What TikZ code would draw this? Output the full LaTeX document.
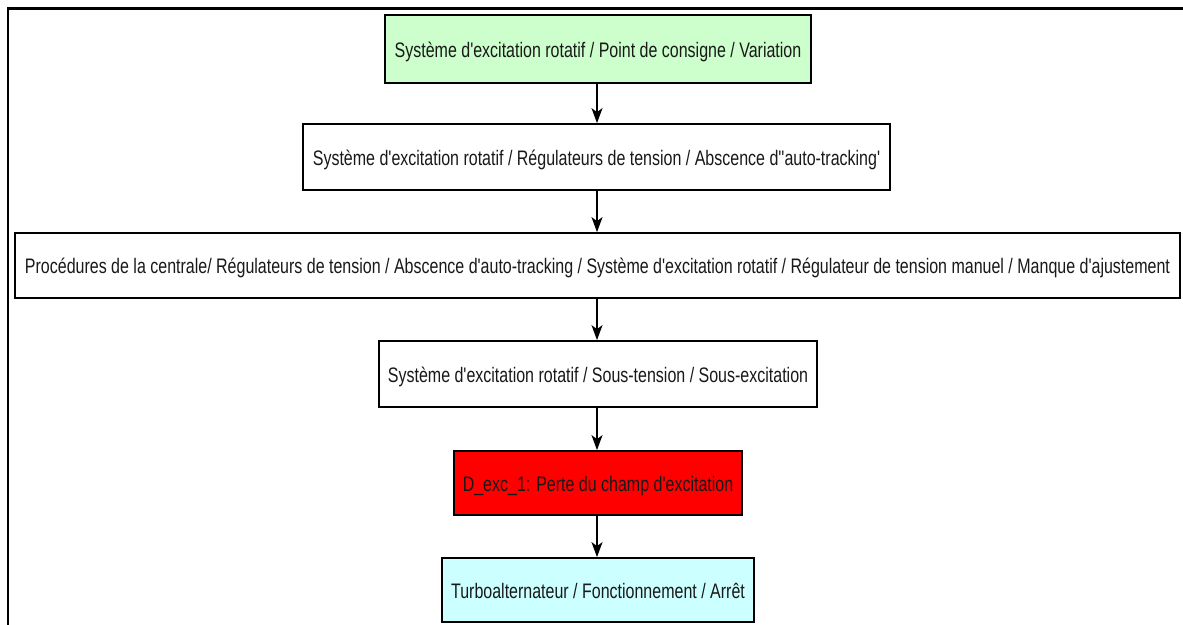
\documentclass[tikz,border=0pt]{standalone}
\usepackage{fontspec}
\setmainfont[FakeStretch=0.762, Ligatures=TeXOff]{Liberation Sans}
\usetikzlibrary{arrows.meta}
\definecolor{boxgreen}{RGB}{204,255,204}
\definecolor{boxred}{RGB}{255,0,0}
\definecolor{boxcyan}{RGB}{204,255,255}
\begin{document}
\begin{tikzpicture}[x=1pt,y=-1pt,
  stepbox/.style={draw=black, line width=1.8pt, fill=white, inner sep=0pt,
    text height=18pt, text depth=2pt,
    font=\fontsize{21}{24}\selectfont, text=black!90, anchor=center},
  flow/.style={line width=1.4pt, -{Stealth[length=15pt,width=11pt,inset=4pt]}}]
  \useasboundingbox (0,0) rectangle (1183,624);
  \begin{scope}
    \clip (0,0) rectangle (1183,624);
    % outer frame
    \draw[line width=2.2pt] (8,8.5) rectangle (1200,650);
  \end{scope}
  % chain of states
  \node[stepbox, fill=boxgreen, minimum width=426pt, minimum height=68pt] (a) at (598,49)
    {Système d'excitation rotatif / Point de consigne / Variation};
  \node[stepbox, minimum width=587pt, minimum height=66pt] (b) at (596.5,157)
    {Système d'excitation rotatif / Régulateurs de tension / Abscence d''auto-tracking'};
  \node[stepbox, minimum width=1165pt, minimum height=65pt] (c) at (597.5,265.5)
    {Procédures de la centrale/ Régulateurs de tension / Abscence d'auto-tracking / Système d'excitation rotatif / Régulateur de tension manuel / Manque d'ajustement};
  \node[stepbox, minimum width=438pt, minimum height=66pt] (d) at (598,374)
    {Système d'excitation rotatif / Sous-tension / Sous-excitation};
  \node[stepbox, fill=boxred, minimum width=288pt, minimum height=64pt] (e) at (598,483)
    {D\_exc\_1: Perte du champ d'excitation};
  \node[stepbox, fill=boxcyan, minimum width=312pt, minimum height=64pt] (f) at (598,590)
    {Turboalternateur / Fonctionnement / Arrêt};
  % connectors
  \draw[flow] (a.south -| 597,0) -- (b.north -| 597,0);
  \draw[flow] (b.south -| 597,0) -- (c.north -| 597,0);
  \draw[flow] (c.south -| 597,0) -- (d.north -| 597,0);
  \draw[flow] (d.south -| 597,0) -- (e.north -| 597,0);
  \draw[flow] (e.south -| 597,0) -- (f.north -| 597,0);
\end{tikzpicture}
\end{document}
